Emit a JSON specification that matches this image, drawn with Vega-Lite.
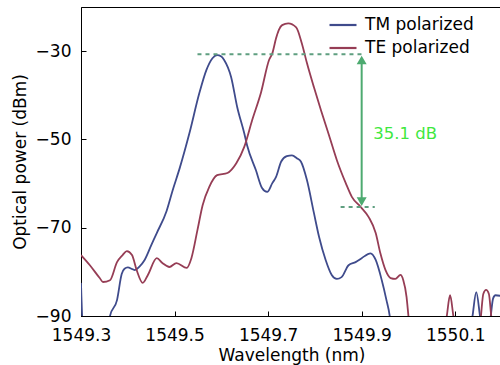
{
  "$schema": "https://vega.github.io/schema/vega-lite/v6.json",
  "width": 421,
  "height": 309,
  "autosize": {"type": "none"},
  "padding": {"left": 81, "top": 7, "right": 0, "bottom": 49},
  "background": "white",
  "config": {
    "view": {"stroke": "black", "strokeWidth": 1},
    "font": "DejaVu Sans",
    "axis": {
      "grid": false,
      "domainColor": "black",
      "tickColor": "black",
      "labelColor": "black",
      "titleColor": "black",
      "labelFontSize": 17,
      "titleFontSize": 17,
      "titleFontWeight": "normal",
      "tickSize": -5,
      "labelFlush": false,
      "labelOverlap": false
    },
    "legend": {"padding": 0}
  },
  "layer": [
    {
      "data": {"values": [
        {"wl": 1549.300, "dB": -82.5, "pol": "TM polarized"},
        {"wl": 1549.304, "dB": -92, "pol": "TM polarized"},
        {"wl": 1549.355, "dB": -95, "pol": "TM polarized"},
        {"wl": 1549.362, "dB": -90, "pol": "TM polarized"},
        {"wl": 1549.377, "dB": -86.4, "pol": "TM polarized"},
        {"wl": 1549.387, "dB": -80.5, "pol": "TM polarized"},
        {"wl": 1549.393, "dB": -79.3, "pol": "TM polarized"},
        {"wl": 1549.400, "dB": -79.0, "pol": "TM polarized"},
        {"wl": 1549.410, "dB": -79.4, "pol": "TM polarized"},
        {"wl": 1549.415, "dB": -79.6, "pol": "TM polarized"},
        {"wl": 1549.425, "dB": -78.8, "pol": "TM polarized"},
        {"wl": 1549.436, "dB": -77.3, "pol": "TM polarized"},
        {"wl": 1549.450, "dB": -74.0, "pol": "TM polarized"},
        {"wl": 1549.462, "dB": -71.2, "pol": "TM polarized"},
        {"wl": 1549.483, "dB": -66.2, "pol": "TM polarized"},
        {"wl": 1549.496, "dB": -61.5, "pol": "TM polarized"},
        {"wl": 1549.511, "dB": -56.5, "pol": "TM polarized"},
        {"wl": 1549.532, "dB": -48.5, "pol": "TM polarized"},
        {"wl": 1549.553, "dB": -39.5, "pol": "TM polarized"},
        {"wl": 1549.568, "dB": -34.3, "pol": "TM polarized"},
        {"wl": 1549.581, "dB": -31.6, "pol": "TM polarized"},
        {"wl": 1549.591, "dB": -30.9, "pol": "TM polarized"},
        {"wl": 1549.600, "dB": -31.2, "pol": "TM polarized"},
        {"wl": 1549.606, "dB": -32.0, "pol": "TM polarized"},
        {"wl": 1549.621, "dB": -35.9, "pol": "TM polarized"},
        {"wl": 1549.634, "dB": -42.7, "pol": "TM polarized"},
        {"wl": 1549.649, "dB": -48.6, "pol": "TM polarized"},
        {"wl": 1549.655, "dB": -51.3, "pol": "TM polarized"},
        {"wl": 1549.674, "dB": -57.0, "pol": "TM polarized"},
        {"wl": 1549.687, "dB": -61.0, "pol": "TM polarized"},
        {"wl": 1549.698, "dB": -61.9, "pol": "TM polarized"},
        {"wl": 1549.709, "dB": -59.9, "pol": "TM polarized"},
        {"wl": 1549.717, "dB": -58.5, "pol": "TM polarized"},
        {"wl": 1549.728, "dB": -55.0, "pol": "TM polarized"},
        {"wl": 1549.740, "dB": -53.8, "pol": "TM polarized"},
        {"wl": 1549.751, "dB": -53.6, "pol": "TM polarized"},
        {"wl": 1549.762, "dB": -54.3, "pol": "TM polarized"},
        {"wl": 1549.770, "dB": -55.0, "pol": "TM polarized"},
        {"wl": 1549.783, "dB": -59.2, "pol": "TM polarized"},
        {"wl": 1549.798, "dB": -66.7, "pol": "TM polarized"},
        {"wl": 1549.809, "dB": -72.1, "pol": "TM polarized"},
        {"wl": 1549.823, "dB": -77.3, "pol": "TM polarized"},
        {"wl": 1549.836, "dB": -80.7, "pol": "TM polarized"},
        {"wl": 1549.847, "dB": -81.6, "pol": "TM polarized"},
        {"wl": 1549.857, "dB": -81.2, "pol": "TM polarized"},
        {"wl": 1549.872, "dB": -78.5, "pol": "TM polarized"},
        {"wl": 1549.887, "dB": -77.8, "pol": "TM polarized"},
        {"wl": 1549.900, "dB": -76.9, "pol": "TM polarized"},
        {"wl": 1549.919, "dB": -75.8, "pol": "TM polarized"},
        {"wl": 1549.930, "dB": -77.3, "pol": "TM polarized"},
        {"wl": 1549.943, "dB": -81.9, "pol": "TM polarized"},
        {"wl": 1549.953, "dB": -86.4, "pol": "TM polarized"},
        {"wl": 1549.960, "dB": -90.0, "pol": "TM polarized"},
        {"wl": 1549.965, "dB": -95, "pol": "TM polarized"},
        {"wl": 1550.130, "dB": -95, "pol": "TM polarized"},
        {"wl": 1550.137, "dB": -90, "pol": "TM polarized"},
        {"wl": 1550.145, "dB": -84.6, "pol": "TM polarized"},
        {"wl": 1550.153, "dB": -90, "pol": "TM polarized"},
        {"wl": 1550.160, "dB": -95, "pol": "TM polarized"},
        {"wl": 1550.170, "dB": -95, "pol": "TM polarized"},
        {"wl": 1550.176, "dB": -90, "pol": "TM polarized"},
        {"wl": 1550.181, "dB": -86, "pol": "TM polarized"},
        {"wl": 1550.186, "dB": -85.3, "pol": "TM polarized"},
        {"wl": 1550.200, "dB": -85.5, "pol": "TM polarized"},

        {"wl": 1549.300, "dB": -76.2, "pol": "TE polarized"},
        {"wl": 1549.319, "dB": -78.5, "pol": "TE polarized"},
        {"wl": 1549.340, "dB": -81.4, "pol": "TE polarized"},
        {"wl": 1549.347, "dB": -82.3, "pol": "TE polarized"},
        {"wl": 1549.362, "dB": -81.9, "pol": "TE polarized"},
        {"wl": 1549.377, "dB": -77.8, "pol": "TE polarized"},
        {"wl": 1549.389, "dB": -76.2, "pol": "TE polarized"},
        {"wl": 1549.398, "dB": -75.3, "pol": "TE polarized"},
        {"wl": 1549.409, "dB": -76.2, "pol": "TE polarized"},
        {"wl": 1549.419, "dB": -79.6, "pol": "TE polarized"},
        {"wl": 1549.432, "dB": -82.5, "pol": "TE polarized"},
        {"wl": 1549.443, "dB": -80.7, "pol": "TE polarized"},
        {"wl": 1549.462, "dB": -76.9, "pol": "TE polarized"},
        {"wl": 1549.474, "dB": -78.0, "pol": "TE polarized"},
        {"wl": 1549.489, "dB": -78.9, "pol": "TE polarized"},
        {"wl": 1549.504, "dB": -78.0, "pol": "TE polarized"},
        {"wl": 1549.526, "dB": -79.1, "pol": "TE polarized"},
        {"wl": 1549.536, "dB": -76.9, "pol": "TE polarized"},
        {"wl": 1549.549, "dB": -70.5, "pol": "TE polarized"},
        {"wl": 1549.560, "dB": -64.9, "pol": "TE polarized"},
        {"wl": 1549.574, "dB": -60.8, "pol": "TE polarized"},
        {"wl": 1549.591, "dB": -58.1, "pol": "TE polarized"},
        {"wl": 1549.613, "dB": -57.6, "pol": "TE polarized"},
        {"wl": 1549.632, "dB": -55.4, "pol": "TE polarized"},
        {"wl": 1549.649, "dB": -51.7, "pol": "TE polarized"},
        {"wl": 1549.666, "dB": -45.6, "pol": "TE polarized"},
        {"wl": 1549.685, "dB": -39.3, "pol": "TE polarized"},
        {"wl": 1549.702, "dB": -32.0, "pol": "TE polarized"},
        {"wl": 1549.709, "dB": -30.5, "pol": "TE polarized"},
        {"wl": 1549.717, "dB": -27.1, "pol": "TE polarized"},
        {"wl": 1549.723, "dB": -25.2, "pol": "TE polarized"},
        {"wl": 1549.730, "dB": -24.1, "pol": "TE polarized"},
        {"wl": 1549.743, "dB": -23.7, "pol": "TE polarized"},
        {"wl": 1549.760, "dB": -24.6, "pol": "TE polarized"},
        {"wl": 1549.772, "dB": -28.2, "pol": "TE polarized"},
        {"wl": 1549.783, "dB": -32.7, "pol": "TE polarized"},
        {"wl": 1549.798, "dB": -38.2, "pol": "TE polarized"},
        {"wl": 1549.813, "dB": -43.4, "pol": "TE polarized"},
        {"wl": 1549.830, "dB": -49.0, "pol": "TE polarized"},
        {"wl": 1549.847, "dB": -54.7, "pol": "TE polarized"},
        {"wl": 1549.866, "dB": -59.9, "pol": "TE polarized"},
        {"wl": 1549.879, "dB": -63.0, "pol": "TE polarized"},
        {"wl": 1549.898, "dB": -65.3, "pol": "TE polarized"},
        {"wl": 1549.915, "dB": -67.6, "pol": "TE polarized"},
        {"wl": 1549.930, "dB": -71.2, "pol": "TE polarized"},
        {"wl": 1549.940, "dB": -75.8, "pol": "TE polarized"},
        {"wl": 1549.951, "dB": -79.6, "pol": "TE polarized"},
        {"wl": 1549.962, "dB": -81.4, "pol": "TE polarized"},
        {"wl": 1549.972, "dB": -81.6, "pol": "TE polarized"},
        {"wl": 1549.983, "dB": -80.7, "pol": "TE polarized"},
        {"wl": 1549.989, "dB": -81.9, "pol": "TE polarized"},
        {"wl": 1549.996, "dB": -85.7, "pol": "TE polarized"},
        {"wl": 1550.000, "dB": -90, "pol": "TE polarized"},
        {"wl": 1550.005, "dB": -95, "pol": "TE polarized"},
        {"wl": 1550.075, "dB": -95, "pol": "TE polarized"},
        {"wl": 1550.082, "dB": -90, "pol": "TE polarized"},
        {"wl": 1550.089, "dB": -85.3, "pol": "TE polarized"},
        {"wl": 1550.096, "dB": -90, "pol": "TE polarized"},
        {"wl": 1550.103, "dB": -95, "pol": "TE polarized"},
        {"wl": 1550.150, "dB": -95, "pol": "TE polarized"},
        {"wl": 1550.155, "dB": -90, "pol": "TE polarized"},
        {"wl": 1550.160, "dB": -85, "pol": "TE polarized"},
        {"wl": 1550.166, "dB": -84.1, "pol": "TE polarized"},
        {"wl": 1550.172, "dB": -85, "pol": "TE polarized"},
        {"wl": 1550.177, "dB": -90, "pol": "TE polarized"},
        {"wl": 1550.183, "dB": -95, "pol": "TE polarized"}
      ]},
      "mark": {"type": "line", "interpolate": "monotone", "strokeWidth": 1.8, "clip": true},
      "encoding": {
        "x": {
          "field": "wl", "type": "quantitative",
          "scale": {"domain": [1549.3, 1550.2], "nice": false, "zero": false},
          "axis": {"values": [1549.3, 1549.5, 1549.7, 1549.9, 1550.1], "format": ".1f", "title": "Wavelength (nm)",
                   "labelBaseline": "alphabetic", "labelPadding": 29,
                   "titleBaseline": "alphabetic", "titleY": 44, "titleX": 210.5, "titleAnchor": "middle"}
        },
        "y": {
          "field": "dB", "type": "quantitative",
          "scale": {"domain": [-90, -20], "nice": false, "zero": false},
          "axis": {"values": [-90, -70, -50, -30], "format": "d", "title": "Optical power (dBm)",
                   "labelPadding": 15,
                   "titleBaseline": "alphabetic", "titleX": -56, "titleY": 154.5, "titleAngle": 270, "titleAnchor": "middle"}
        },
        "color": {
          "field": "pol", "type": "nominal",
          "scale": {"domain": ["TM polarized", "TE polarized"], "range": ["#3f4b8c", "#963d55"]},
          "legend": {
            "title": null, "orient": "none", "legendX": 247, "legendY": 3,
            "symbolType": "stroke", "symbolSize": 729, "symbolStrokeWidth": 2.2,
            "labelFontSize": 17, "labelColor": "black", "labelOffset": 7, "rowPadding": -6
          }
        }
      }
    },
    {
      "data": {"values": [
        {"wl": 1549.549, "wl2": 1549.904, "dB": -30.7},
        {"wl": 1549.855, "wl2": 1549.928, "dB": -65.3}
      ]},
      "mark": {"type": "rule", "color": "#5f9f80", "strokeWidth": 2, "strokeDash": [4, 4]},
      "encoding": {
        "x": {"field": "wl", "type": "quantitative"},
        "x2": {"field": "wl2"},
        "y": {"field": "dB", "type": "quantitative"}
      }
    },
    {
      "data": {"values": [{"wl": 1549.900, "dB": -32.5, "dB2": -63.5}]},
      "mark": {"type": "rule", "color": "#4daa70", "strokeWidth": 2},
      "encoding": {
        "x": {"field": "wl", "type": "quantitative"},
        "y": {"field": "dB", "type": "quantitative"},
        "y2": {"field": "dB2"}
      }
    },
    {
      "data": {"values": [
        {"wl": 1549.900, "dB": -32.0, "head": "triangle-up"},
        {"wl": 1549.900, "dB": -64.1, "head": "triangle-down"}
      ]},
      "mark": {"type": "point", "filled": true, "color": "#4daa70", "size": 100, "opacity": 1},
      "encoding": {
        "x": {"field": "wl", "type": "quantitative"},
        "y": {"field": "dB", "type": "quantitative"},
        "shape": {"field": "head", "type": "nominal", "scale": {"domain": ["triangle-up", "triangle-down"], "range": ["triangle-up", "triangle-down"]}, "legend": null}
      }
    },
    {
      "data": {"values": [{"wl": 1549.925, "dB": -49.9, "label": "35.1 dB"}]},
      "mark": {"type": "text", "align": "left", "baseline": "alphabetic", "fontSize": 16.5, "color": "#3ee83e", "font": "DejaVu Sans"},
      "encoding": {
        "x": {"field": "wl", "type": "quantitative"},
        "y": {"field": "dB", "type": "quantitative"},
        "text": {"field": "label"}
      }
    }
  ]
}
